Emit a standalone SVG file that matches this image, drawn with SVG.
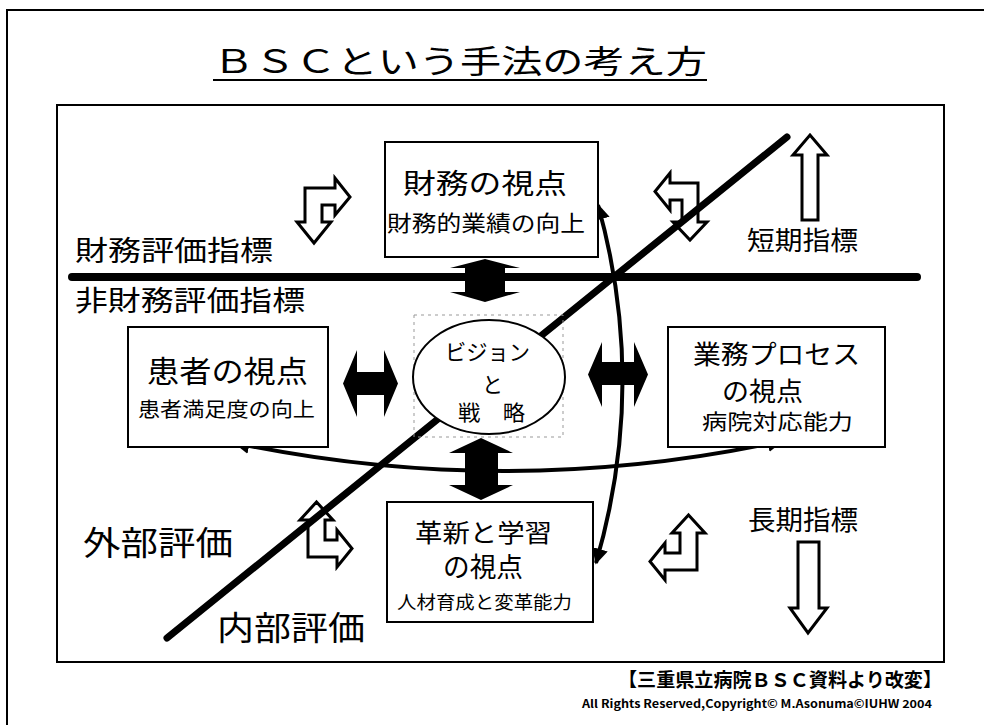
<svg xmlns="http://www.w3.org/2000/svg" width="984" height="725" viewBox="0 0 984 725">
<style>
text{font-family:"Noto Sans CJK JP","Noto Sans",sans-serif;fill:#000}
.box{fill:#fff;stroke:#000;stroke-width:2}
.blk{fill:#000;stroke:none}
.hol{fill:#fff;stroke:#000;stroke-width:3;stroke-linejoin:miter}
.cur{fill:none;stroke:#000;stroke-width:4}
</style>
<defs>
<marker id="ah" viewBox="0 0 10 10" refX="9" refY="5" markerWidth="4" markerHeight="4" orient="auto-start-reverse" markerUnits="strokeWidth">
<path d="M0 0 L10 5 L0 10 Z" fill="#000"/>
</marker>
</defs>
<rect width="984" height="725" fill="#fff"/>
<path d="M7 725 V10 H984" fill="none" stroke="#000" stroke-width="2"/>
<text x="213" y="73" font-size="32" textLength="494" lengthAdjust="spacingAndGlyphs">ＢＳＣという手法の考え方</text>
<line x1="213" y1="80" x2="707" y2="80" stroke="#000" stroke-width="2"/>
<rect x="57" y="105" width="887" height="557" fill="none" stroke="#000" stroke-width="2"/>

<g id="labels">
<text x="75" y="261" font-size="28" textLength="198" lengthAdjust="spacingAndGlyphs">財務評価指標</text>
<text x="75" y="311" font-size="28" textLength="230" lengthAdjust="spacingAndGlyphs">非財務評価指標</text>
<text x="83" y="555" font-size="33" textLength="150" lengthAdjust="spacingAndGlyphs">外部評価</text>
<text x="217" y="640" font-size="33" textLength="148" lengthAdjust="spacingAndGlyphs">内部評価</text>
<text x="747" y="250" font-size="26" textLength="111" lengthAdjust="spacingAndGlyphs">短期指標</text>
<text x="748" y="530" font-size="27" textLength="110" lengthAdjust="spacingAndGlyphs">長期指標</text>
</g>

<g id="bent-arrows">
<polygon class="hol" points="305,188 335,188 335,178 350,197 335,215 335,205 322,205 322,222 331,222 314,243 297,222 305,222"/>
<polygon class="hol" points="698,183 698,222 707,222 690,240 673,222 682,222 682,200 670,200 670,210 655,191.5 670,173 670,183"/>
<polygon class="hol" points="308,557 308,520 300,520 316.5,502 333,520 325,520 325,540 337,540 337,530 352,548.5 337,567 337,557"/>
<polygon class="hol" points="697,570 665,570 665,580 650,561.5 665,543 665,553 680,553 680,533 672,533 688.5,515 705,533 697,533"/>
<polygon class="hol" points="802,220 802,155 793,155 810,135 827,155 818,155 818,220"/>
<polygon class="hol" points="798,542 819,542 819,608 827,608 808,633 790,608 798,608"/>
</g>

<g id="connectors">
<line x1="72" y1="277" x2="917" y2="277" stroke="#000" stroke-width="8" stroke-linecap="round"/>
<line x1="167" y1="638" x2="787" y2="137" stroke="#000" stroke-width="7" stroke-linecap="round"/>
<path class="cur" d="M598 205 Q648 384 596 563" marker-start="url(#ah)" marker-end="url(#ah)"/>
<path class="cur" d="M235 443 Q508 500 782 441" marker-start="url(#ah)" marker-end="url(#ah)"/>
<polygon class="blk" points="485,259 520,268 505,268 505,292 520,292 485,302 450,292 465,292 465,268 450,268"/>
<polygon class="blk" points="481,438 513,453 498,453 498,485 513,485 481,500 449,485 465,485 465,453 449,453"/>
<polygon class="blk" points="343,383.5 357,350 357,372 384,372 384,350 398,383.5 384,417 384,395 357,395 357,417"/>
<polygon class="blk" points="588,374.5 602,342 602,362 634,362 634,342 648,374.5 634,407 634,385 602,385 602,407"/>
</g>

<g id="vision">
<rect x="414" y="315" width="149" height="122" fill="none" stroke="#999" stroke-width="1" stroke-dasharray="3 4"/>
<ellipse cx="489" cy="377" rx="76" ry="57" fill="#fff" stroke="#000" stroke-width="2"/>
<text x="445" y="360" font-size="22" textLength="85" lengthAdjust="spacingAndGlyphs">ビジョン</text>
<text x="482" y="392" font-size="21">と</text>
<text x="458" y="420" font-size="21" textLength="67" lengthAdjust="spacingAndGlyphs">戦　略</text>
</g>

<g id="finance">
<rect class="box" x="385" y="142" width="213" height="115"/>
<text x="403" y="194" font-size="28" textLength="164" lengthAdjust="spacingAndGlyphs">財務の視点</text>
<text x="387" y="231" font-size="22" textLength="198" lengthAdjust="spacingAndGlyphs">財務的業績の向上</text>
</g>

<g id="customer">
<rect class="box" x="128" y="327" width="200" height="120"/>
<text x="147" y="382" font-size="30" textLength="161" lengthAdjust="spacingAndGlyphs">患者の視点</text>
<text x="138" y="417" font-size="20" textLength="177" lengthAdjust="spacingAndGlyphs">患者満足度の向上</text>
</g>

<g id="process">
<rect class="box" x="668" y="327" width="217" height="120"/>
<text x="693" y="364" font-size="26" textLength="167" lengthAdjust="spacingAndGlyphs">業務プロセス</text>
<text x="722" y="401" font-size="26" textLength="81" lengthAdjust="spacingAndGlyphs">の視点</text>
<text x="702" y="429" font-size="21" textLength="151" lengthAdjust="spacingAndGlyphs">病院対応能力</text>
</g>

<g id="learning">
<rect class="box" x="387" y="502" width="206" height="120"/>
<text x="415" y="542" font-size="25" textLength="137" lengthAdjust="spacingAndGlyphs">革新と学習</text>
<text x="443" y="577" font-size="27" textLength="80" lengthAdjust="spacingAndGlyphs">の視点</text>
<text x="397" y="609" font-size="18" textLength="175" lengthAdjust="spacingAndGlyphs">人材育成と変革能力</text>
</g>

<g id="footer">
<text x="618" y="687" font-size="19" font-weight="bold" textLength="324" lengthAdjust="spacingAndGlyphs">【三重県立病院ＢＳＣ資料より改変】</text>
<text x="582" y="708" font-size="11" font-weight="bold" font-family="Liberation Sans, sans-serif" textLength="350" lengthAdjust="spacingAndGlyphs">All Rights Reserved,Copyright© M.Asonuma©IUHW 2004</text>
</g>
</svg>
